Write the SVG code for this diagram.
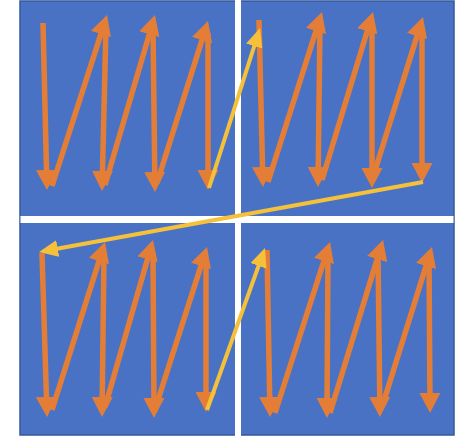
<svg xmlns="http://www.w3.org/2000/svg" width="457" height="436" viewBox="0 0 457 436">
<style>
.o{stroke:#E47E36;stroke-width:5.5;fill:none;marker-end:url(#ho)}
.y{stroke:#F6C13A;stroke-width:4;fill:none;marker-end:url(#hy)}
.gap{fill:#ffffff}
</style>
<defs>
<marker id="ho" markerUnits="userSpaceOnUse" markerWidth="20" markerHeight="21" viewBox="0 0 20 21" refX="12" refY="10.5" orient="auto">
<path d="M0,0 L20,10.5 L0,21 Z" fill="#E47E36"/>
</marker>
<marker id="hy" markerUnits="userSpaceOnUse" markerWidth="19" markerHeight="17" viewBox="0 0 19 17" refX="12" refY="8.5" orient="auto">
<path d="M0,0 L19,8.5 L0,17 Z" fill="#F6C13A"/>
</marker>
</defs>
<rect id="board" x="20" y="1" width="434" height="434" fill="#4A72C4" stroke="#34589A" stroke-width="1.5"/>
<rect class="gap" x="235" y="0" width="6" height="436"/>
<rect class="gap" x="20.5" y="216" width="433" height="7"/>
<g id="q1">
<line class="o" x1="43" y1="23" x2="46.8" y2="182"/>
<line class="o" x1="52" y1="186" x2="104.6" y2="22.6"/>
<line class="o" x1="106" y1="27" x2="102.2" y2="183"/>
<line class="o" x1="105" y1="185" x2="152.7" y2="22.7"/>
<line class="o" x1="153" y1="27" x2="154.9" y2="184"/>
<line class="o" x1="157" y1="183" x2="205.6" y2="28.6"/>
<line class="o" x1="208" y1="33" x2="208" y2="182"/>
</g>
<g id="q2">
<line class="o" x1="259" y1="20" x2="262.8" y2="179"/>
<line class="o" x1="268" y1="182" x2="319.6" y2="19.6"/>
<line class="o" x1="320" y1="23" x2="318.1" y2="179"/>
<line class="o" x1="322" y1="180" x2="370.7" y2="19.7"/>
<line class="o" x1="372" y1="23" x2="372" y2="180"/>
<line class="o" x1="373" y1="177" x2="420.6" y2="24.6"/>
<line class="o" x1="422" y1="30" x2="422" y2="175"/>
</g>
<g id="q3">
<line class="o" x1="42" y1="253" x2="46.8" y2="409"/>
<line class="o" x1="52" y1="410" x2="102.6" y2="249.6"/>
<line class="o" x1="104" y1="255" x2="102.1" y2="409"/>
<line class="o" x1="105" y1="407" x2="150.8" y2="247.7"/>
<line class="o" x1="153" y1="253" x2="154" y2="410"/>
<line class="o" x1="157" y1="403" x2="204.6" y2="254.6"/>
<line class="o" x1="206" y1="258" x2="206" y2="404"/>
</g>
<g id="q4">
<line class="o" x1="267" y1="250" x2="269.9" y2="409"/>
<line class="o" x1="275" y1="413" x2="327.6" y2="249.6"/>
<line class="o" x1="328" y1="255" x2="327" y2="410"/>
<line class="o" x1="330" y1="413" x2="380.7" y2="247.6"/>
<line class="o" x1="378" y1="253" x2="379.9" y2="409"/>
<line class="o" x1="382" y1="407" x2="429.6" y2="254.6"/>
<line class="o" x1="429" y1="257" x2="430" y2="405"/>
</g>
<g id="connectors">
<line class="y" x1="209" y1="188" x2="257.9" y2="34.7"/>
<line class="y" x1="423" y1="182" x2="45.9" y2="250.7"/>
<line class="y" x1="207" y1="410" x2="262.6" y2="254.6"/>
</g>
</svg>
